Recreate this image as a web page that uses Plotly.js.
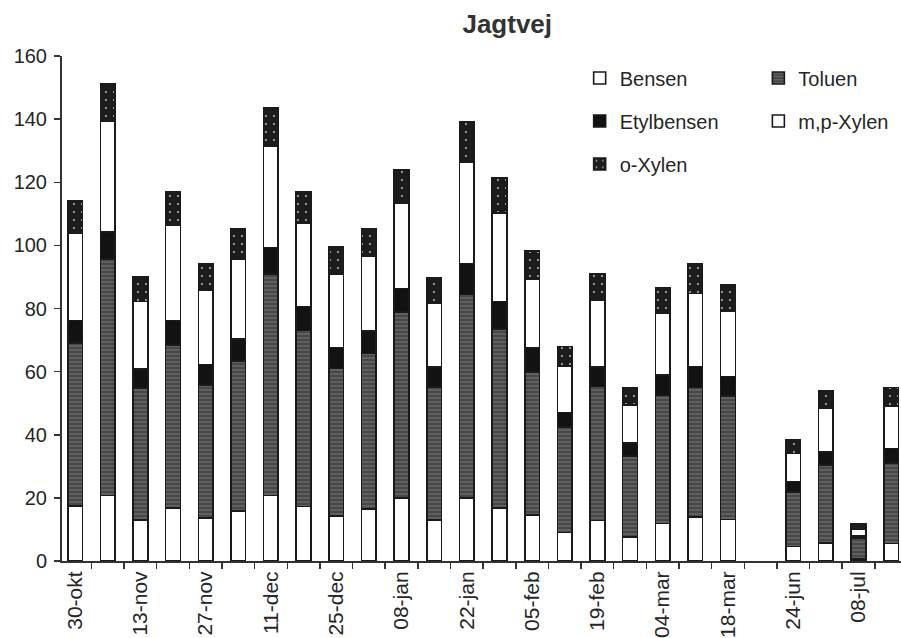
<!DOCTYPE html>
<html>
<head>
<meta charset="utf-8">
<script src="https://cdn.plot.ly/plotly-3.0.1.min.js"></script>
<style>
  html, body { margin: 0; padding: 0; background: #ffffff; }
  #chart { width: 901px; height: 638px; }
</style>
</head>
<body>
<div id="chart"></div>
<script>
// Weekly sampling dates (one empty slot between 18-mar and 24-jun)
const categories = ["30-okt","06-nov","13-nov","20-nov","27-nov","04-dec","11-dec","18-dec","25-dec","01-jan",
  "08-jan","15-jan","22-jan","29-jan","05-feb","12-feb","19-feb","26-feb","04-mar","11-mar",
  "18-mar","25-mar","24-jun","01-jul","08-jul","15-jul"];
const tickLabels = ["30-okt","","13-nov","","27-nov","","11-dec","","25-dec","",
  "08-jan","","22-jan","","05-feb","","19-feb","","04-mar","",
  "18-mar","","24-jun","","08-jul",""];

const bensen     = [17.5,20.8,13.0,16.8,13.6,15.9,20.8,17.3,14.2,16.5,19.9,13.0,19.9,16.8,14.5, 9.0,12.8, 7.6,11.9,13.9,13.1,null, 4.6, 5.7,0.6, 5.6];
const toluen     = [51.5,74.8,41.8,51.7,42.2,47.4,70.2,55.7,46.8,49.2,58.9,42.2,64.6,56.7,45.3,33.5,42.5,25.6,40.6,41.1,39.1,null,17.2,24.8,6.7,25.4];
const etylbensen = [ 7.2, 8.7, 6.0, 7.7, 6.5, 7.0, 8.3, 7.6, 6.6, 7.1, 7.5, 6.3, 9.8, 8.7, 7.7, 4.5, 6.2, 4.1, 6.4, 6.6, 6.3,null, 3.4, 4.1,0.7, 4.6];
const mpXylen    = [27.6,35.0,21.4,30.1,23.5,25.4,32.1,26.4,23.4,23.8,27.0,20.3,32.2,28.0,21.8,14.8,21.1,12.1,19.5,23.1,20.5,null, 8.9,13.7,2.0,13.5];
const oXylen     = [10.2,11.8, 7.8,10.8, 8.3, 9.5,12.1,10.0, 8.5, 8.7,10.5, 8.0,12.7,11.1, 8.9, 6.2, 8.3, 5.4, 8.3, 9.6, 8.5,null, 4.2, 5.6,1.8, 5.9];

const yTicks = [0, 20, 40, 60, 80, 100, 120, 140, 160];

const FONT = "Liberation Sans, Arial, sans-serif";
const INK = "#262626";
const outline = { color: "#1a1a1a", width: 1.6 };

const traces = [
  { name: "Bensen", y: bensen, legend: "legend", legendgroup: "a",
    marker: { color: "#ffffff", line: outline } },
  { name: "Toluen", y: toluen, legend: "legend2", legendgroup: "b",
    marker: { color: "#555555", line: outline,
      pattern: { shape: "-", fgcolor: "#707070", bgcolor: "#474747", size: 4, solidity: 0.3 } } },
  { name: "Etylbensen", y: etylbensen, legend: "legend", legendgroup: "c",
    marker: { color: "#121212", line: outline } },
  { name: "m,p-Xylen", y: mpXylen, legend: "legend2", legendgroup: "d",
    marker: { color: "#ffffff", line: outline } },
  { name: "o-Xylen", y: oXylen, legend: "legend", legendgroup: "e",
    marker: { color: "#1e1e1e", line: outline,
      pattern: { shape: ".", fgcolor: "#b0b0b0", bgcolor: "#1c1c1c", size: 8, solidity: 0.06 } } }
].map(t => Object.assign({ type: "bar", x: categories, hoverinfo: "x+y+name" }, t));

const legendCommon = {
  orientation: "v", traceorder: "grouped", tracegroupgap: 14,
  font: { family: FONT, size: 20, color: INK },
  bgcolor: "rgba(0,0,0,0)", borderwidth: 0,
  xanchor: "left", yanchor: "top", itemwidth: 30
};

const layout = {
  width: 901, height: 638,
  paper_bgcolor: "#ffffff", plot_bgcolor: "#ffffff",
  margin: { l: 62, r: 0, t: 56, b: 77 },
  barmode: "stack", bargap: 0.55,
  font: { family: FONT, size: 20, color: INK },
  title: { text: "Jagtvej", x: 0.563, xref: "container", xanchor: "center",
    y: 0.962, yref: "container", yanchor: "middle",
    font: { family: FONT, size: 26, weight: "bold", color: "#333333" } },
  showlegend: true,
  legend: Object.assign({}, legendCommon, { x: 0.617, y: 0.995 }),
  legend2: Object.assign({}, legendCommon, { x: 0.83, y: 0.995 }),
  xaxis: {
    type: "category", categoryorder: "array", categoryarray: categories,
    range: [-0.4, 25.3],
    tickmode: "array", tickvals: categories, ticktext: tickLabels,
    tickson: "boundaries", ticks: "outside", ticklen: 6, tickwidth: 1.5, tickcolor: "#333",
    tickangle: -90, tickfont: { family: FONT, size: 21, color: INK },
    showline: true, linecolor: "#333", linewidth: 2, showgrid: false, zeroline: false
  },
  yaxis: {
    range: [0, 160], tickmode: "array", tickvals: yTicks,
    ticks: "outside", ticklen: 6, tickwidth: 1.5, tickcolor: "#333",
    ticklabelstandoff: 3,
    tickfont: { family: FONT, size: 20, color: INK },
    showline: true, linecolor: "#333", linewidth: 2, showgrid: false, zeroline: false
  }
};

Plotly.newPlot("chart", traces, layout, { displayModeBar: false, staticPlot: true });
</script>
</body>
</html>
